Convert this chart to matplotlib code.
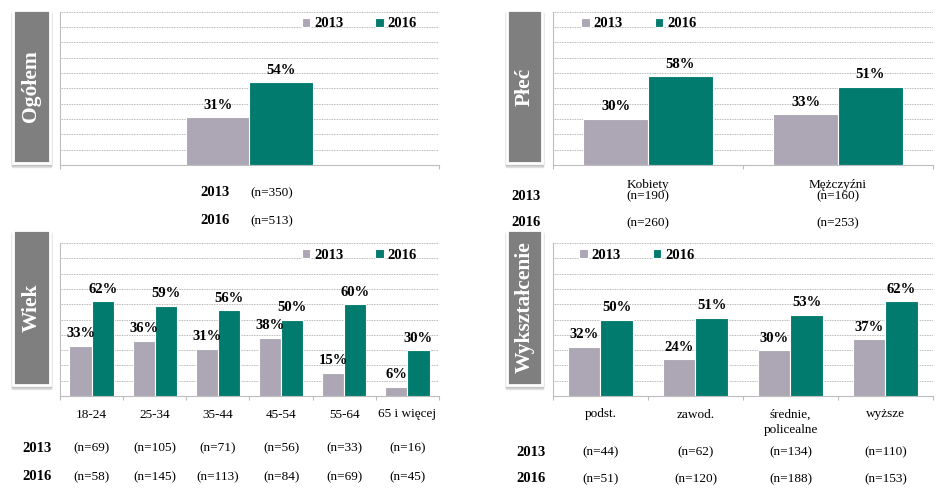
import numpy as np
import matplotlib
matplotlib.use("Agg")
from matplotlib import pyplot as plt
from matplotlib.patches import Rectangle
from matplotlib.transforms import blended_transform_factory

plt.rcParams['font.family'] = ['Liberation Serif', 'DejaVu Serif']

# data
ogolem_cats = ['']
ogolem_2013 = [31]
ogolem_2016 = [54]
ogolem_n2013 = ['(n=350)']
ogolem_n2016 = ['(n=513)']

plec_cats = ['Kobiety', 'Mężczyźni']
plec_2013 = [30, 33]
plec_2016 = [58, 51]
plec_n2013 = ['(n=190)', '(n=160)']
plec_n2016 = ['(n=260)', '(n=253)']

wiek_cats = ['18-24', '25-34', '35-44', '45-54', '55-64', '65 i więcej']
wiek_2013 = [33, 36, 31, 38, 15, 6]
wiek_2016 = [62, 59, 56, 50, 60, 30]
wiek_n2013 = ['(n=69)', '(n=105)', '(n=71)', '(n=56)', '(n=33)', '(n=16)']
wiek_n2016 = ['(n=58)', '(n=145)', '(n=113)', '(n=84)', '(n=69)', '(n=45)']

wyk_cats = ['podst.', 'zawod.', 'średnie,\npolicealne', 'wyższe']
wyk_2013 = [32, 24, 30, 37]
wyk_2016 = [50, 51, 53, 62]
wyk_n2013 = ['(n=44)', '(n=62)', '(n=134)', '(n=110)']
wyk_n2016 = ['(n=51)', '(n=120)', '(n=188)', '(n=153)']

GRAY = '#ada6b5'
GREEN = '#007b6e'
BOX = '#7f7f7f'
LINE = '#bdbdbd'

W, H = 945, 492
fig = plt.figure(figsize=(9.45, 4.92), dpi=100)


def px_axes(x0, y0, x1, y1):
    return fig.add_axes([x0 / W, 1 - y1 / H, (x1 - x0) / W, (y1 - y0) / H])


def side_box(x0, y0, x1, y1, title):
    # soft shadow + gray box with white rim and vertical title
    for d, c in ((4, '#e4e4e4'), (3, '#d2d2d2'), (2, '#c4c4c4')):
        fig.patches.append(Rectangle(((x0 - 1) / W, 1 - (y1 + d) / H), (x1 - x0 + 2) / W, (y1 - y0) / H,
                                     transform=fig.transFigure, color=c, zorder=0))
    fig.patches.append(Rectangle((x0 / W, 1 - y1 / H), (x1 - x0) / W, (y1 - y0) / H,
                                 transform=fig.transFigure, facecolor=BOX, edgecolor='white',
                                 lw=2, zorder=1))
    fig.text((x0 + x1) / 2 / W, 1 - (y0 + y1) / 2 / H, title, rotation=90, color='white',
             fontsize=15.5, fontweight='bold', ha='center', va='center')


def draw_panel(ax, cats, v13, v16, width, leg_x, lbl_spacing=1.0):
    x = np.arange(len(cats))
    ax.bar(x - width / 2, v13, width, color=GRAY, edgecolor='white', lw=0.8, label='2013', zorder=3)
    ax.bar(x + width / 2, v16, width, color=GREEN, edgecolor='white', lw=0.8, label='2016', zorder=3)
    for xs, vals in ((x - width / 2, v13), (x + width / 2, v16)):
        for xi, v in zip(xs, vals):
            ax.annotate(f'{v}%', (xi, v), xytext=(0, 4), textcoords='offset points',
                        ha='center', va='bottom', fontsize=10.5, fontweight='bold', zorder=5)
    ax.set_xlim(-0.5, len(cats) - 0.5)
    ax.set_ylim(0, 100)
    ax.set_yticks(np.arange(10, 101, 10))
    ax.tick_params(axis='y', length=0, labelleft=False)
    ax.yaxis.grid(True, linestyle=(0, (1, 1)), color='#a0a0a0', lw=0.6, zorder=0)
    ax.set_axisbelow(True)
    ax.set_xticks(x)
    ax.set_xticklabels(cats, fontsize=9.5)
    ax.set_xticks(np.arange(-0.5, len(cats)), minor=True)
    ax.tick_params(axis='x', which='major', length=0, pad=9)
    ax.tick_params(axis='x', which='minor', length=3, color=LINE, width=0.8)
    for lbl in ax.get_xticklabels():
        lbl.set_linespacing(lbl_spacing)
    for s in ('top', 'right'):
        ax.spines[s].set_visible(False)
    for s in ('left', 'bottom'):
        ax.spines[s].set_color(LINE)
        ax.spines[s].set_linewidth(0.8)
    ax.legend(loc='center', bbox_to_anchor=(leg_x, 0.92), ncol=2, frameon=False,
              handlelength=0.6, handleheight=0.6, handletextpad=0.25, columnspacing=2.2,
              prop={'weight': 'bold', 'size': 10.5}, borderaxespad=0)


def row_texts(ax, x_lbl, y13, y16, n13, n16, xs=None):
    fig.text(x_lbl / W, 1 - y13 / H, '2013', fontsize=10.5, fontweight='bold', ha='center', va='center')
    fig.text(x_lbl / W, 1 - y16 / H, '2016', fontsize=10.5, fontweight='bold', ha='center', va='center')
    tr = blended_transform_factory(ax.transData, fig.transFigure)
    if xs is None:
        xs = np.arange(len(n16))
    for xi, a, b in zip(xs, n13, n16):
        if a:
            ax.text(xi, 1 - y13 / H, a, transform=tr, fontsize=9.5, ha='center', va='center')
        ax.text(xi, 1 - y16 / H, b, transform=tr, fontsize=9.5, ha='center', va='center')


# Ogółem
ax1 = px_axes(60, 11.7, 439, 165)
side_box(13, 10, 50, 163, 'Ogółem')
draw_panel(ax1, ogolem_cats, ogolem_2013, ogolem_2016, 0.167, 0.79)
row_texts(ax1, 215, 193, 221, ogolem_n2013, ogolem_n2016, xs=[0.06])

# Płeć
ax2 = px_axes(553, 11.7, 933, 165)
side_box(507, 10, 542, 163, 'Płeć')
plec_lbls = [f'{c}\n{n}' for c, n in zip(plec_cats, plec_n2013)]
draw_panel(ax2, plec_lbls, plec_2013, plec_2016, 0.342, 0.225, lbl_spacing=0.9)
ax2.tick_params(axis='x', which='major', pad=10)
row_texts(ax2, 526, 196, 223, ['', ''], plec_n2016)

# Wiek
ax3 = px_axes(60, 243, 439, 396)
side_box(13, 230, 50, 385, 'Wiek')
draw_panel(ax3, wiek_cats, wiek_2013, wiek_2016, 0.35, 0.79)
row_texts(ax3, 37, 448, 477, wiek_n2013, wiek_n2016)

# Wykształcenie
ax4 = px_axes(553, 243, 933, 396)
side_box(507, 230, 542, 385, 'Wykształcenie')
draw_panel(ax4, wyk_cats, wyk_2013, wyk_2016, 0.337, 0.22, lbl_spacing=1.4)
row_texts(ax4, 531, 452, 479, wyk_n2013, wyk_n2016)

fig.savefig('out.png', dpi=100)
